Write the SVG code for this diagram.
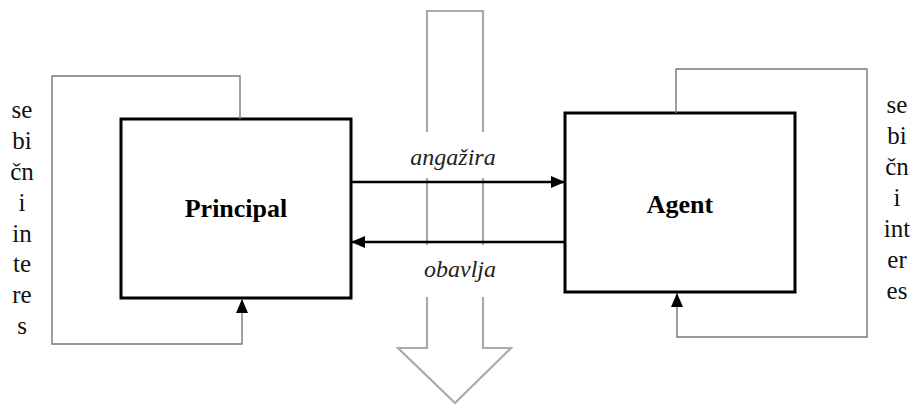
<svg xmlns="http://www.w3.org/2000/svg" width="915" height="405" viewBox="0 0 915 405">
<style>
.box{fill:#fff;stroke:#000;stroke-width:3}
.loop{fill:none;stroke:#777;stroke-width:1.4}
.flow{fill:none;stroke:#000;stroke-width:2.6}
.big{fill:none;stroke:#aaa;stroke-width:2.2}
.side{font-family:"Liberation Serif",serif;font-size:25px;fill:#111;text-anchor:middle}
.title{font-family:"Liberation Serif",serif;font-size:26px;font-weight:bold;fill:#000;text-anchor:middle}
.lbl{font-family:"Liberation Serif",serif;font-size:24px;font-style:italic;fill:#222;text-anchor:middle}
</style>
<defs>
<marker id="ah" markerUnits="userSpaceOnUse" markerWidth="14" markerHeight="12" viewBox="0 0 14 12" refX="14" refY="6" orient="auto">
<path d="M0,0 L14,6 L0,12 Z" fill="#000"/>
</marker>
</defs>
<g id="bigarrow">
<polygon class="big" points="427,348 398,348 455,403 511,348 483,348 483,11 427,11"/>
<rect x="395" y="132" width="120" height="46" fill="#fff"/>
<rect x="395" y="245" width="120" height="52" fill="#fff"/>
</g>
<g id="principal">
<rect class="box" x="121" y="119" width="230" height="179"/>
<text class="title" x="236" y="217">Principal</text>
</g>
<g id="agent">
<rect class="box" x="565" y="113" width="230" height="179"/>
<text class="title" x="680" y="213">Agent</text>
</g>
<g id="connectors">
<polyline class="loop" points="240,119 240,76 52,76 52,344 242,344 242,299" marker-end="url(#ah)"/>
<polyline class="loop" points="676,113 676,69 867,69 867,337 677,337 677,293" marker-end="url(#ah)"/>
<line class="flow" x1="352" y1="182" x2="565" y2="182" marker-end="url(#ah)"/>
<line class="flow" x1="564" y1="242" x2="351" y2="242" marker-end="url(#ah)"/>
<text class="lbl" x="453" y="165">angažira</text>
<text class="lbl" x="460" y="277">obavlja</text>
</g>
<g id="left-text">
<text class="side" x="22" y="118">se</text>
<text class="side" x="22" y="149">bi</text>
<text class="side" x="22" y="180">čn</text>
<text class="side" x="22" y="211">i</text>
<text class="side" x="22" y="242">in</text>
<text class="side" x="22" y="272">te</text>
<text class="side" x="22" y="303">re</text>
<text class="side" x="22" y="334">s</text>
</g>
<g id="right-text">
<text class="side" x="897" y="113">se</text>
<text class="side" x="897" y="144">bi</text>
<text class="side" x="897" y="175">čn</text>
<text class="side" x="897" y="206">i</text>
<text class="side" x="897" y="237">int</text>
<text class="side" x="897" y="268">er</text>
<text class="side" x="897" y="299">es</text>
</g>
</svg>
